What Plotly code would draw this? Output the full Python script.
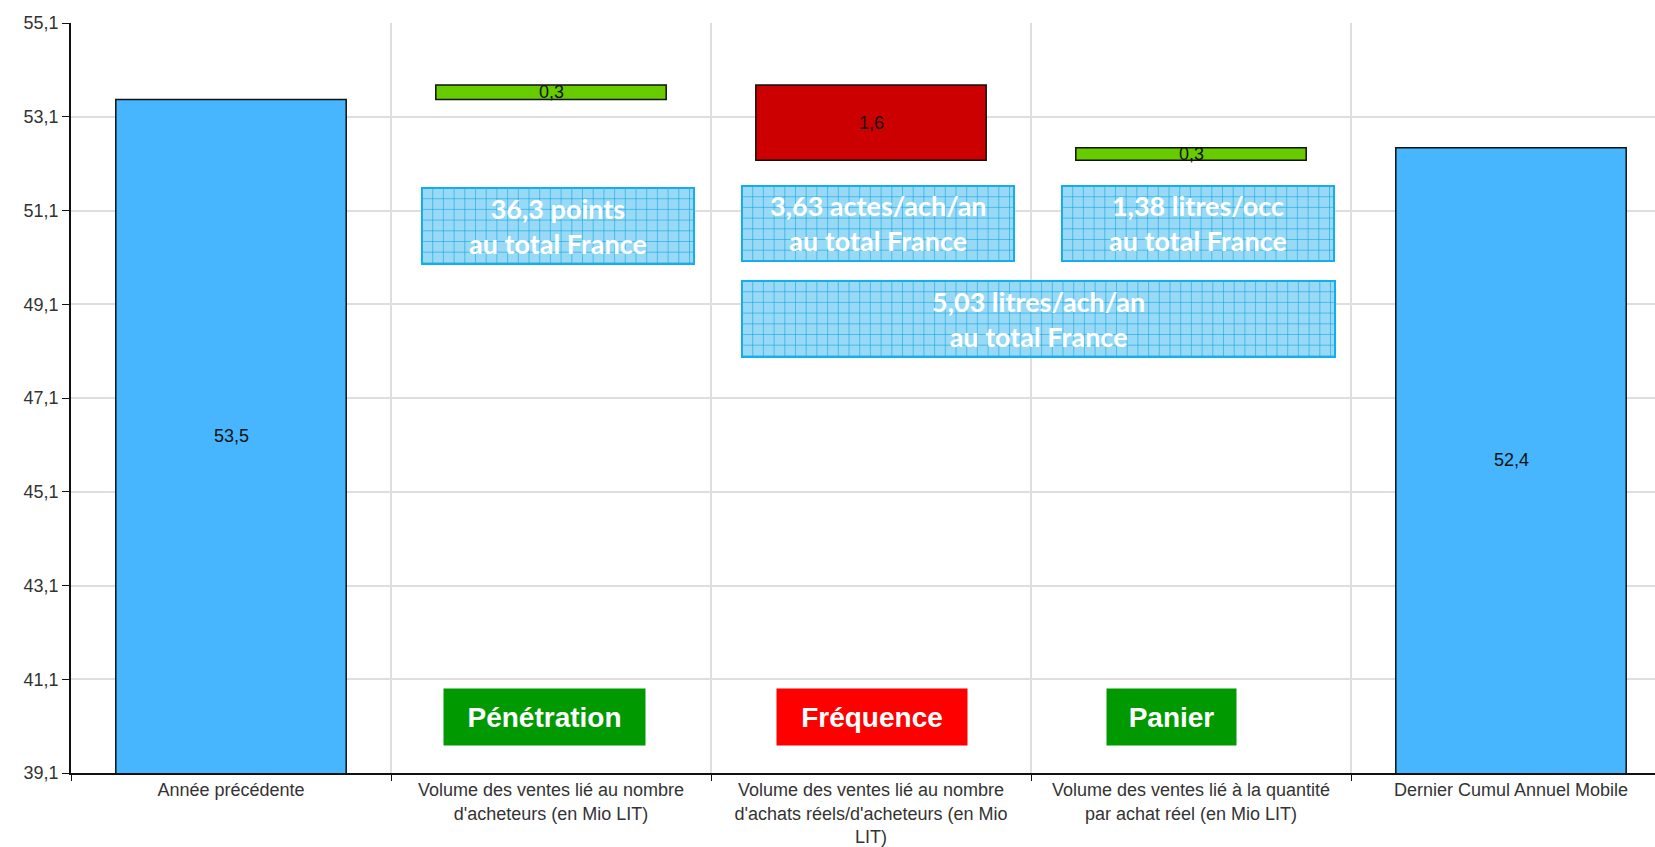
import plotly.graph_objects as go

# ---------------- data ----------------
categories = [
    "Année précédente",
    "Volume des ventes lié au nombre<br>d'acheteurs (en Mio LIT)",
    "Volume des ventes lié au nombre<br>d'achats réels/d'acheteurs (en Mio<br>LIT)",
    "Volume des ventes lié à la quantité<br>par achat réel (en Mio LIT)",
    "Dernier Cumul Annuel Mobile",
]
previous_year = 53.47
deltas = [0.31, -1.61, 0.27]
last_cam = 52.44

info_texts = [
    "36,3 points<br>au total France",
    "3,63 actes/ach/an<br>au total France",
    "1,38 litres/occ<br>au total France",
    "5,03 litres/ach/an<br>au total France",
]
driver_labels = ["Pénétration", "Fréquence", "Panier"]

# ---------------- styling ----------------
C_TOTAL = "#47b6ff"
C_UP = "#66cc00"
C_DOWN = "#cc0000"
DRIVER_COLORS = ["#009900", "#ff0000", "#009900"]
Y_MIN, Y_MAX = 39.1, 55.1

# plot area geometry (pixels)
L, T, W, H = 71, 23, 1584, 750
B = T + H


def xp(px):
    return (px - L) / W


def yp(py):
    return (B - py) / H


# build waterfall bars
bases, heights, colors = [0], [previous_year], [C_TOTAL]
running = previous_year
for d in deltas:
    bases.append(running)
    heights.append(d)
    colors.append(C_UP if d >= 0 else C_DOWN)
    running += d
bases.append(0)
heights.append(last_cam)
colors.append(C_TOTAL)

fig = go.Figure()
fig.add_trace(go.Bar(
    x=categories, y=heights, base=bases, width=0.72,
    marker=dict(color=colors, line=dict(color="#111111", width=1.5)),
    hoverinfo="skip",
))

annotations = []
# value labels centred in the visible part of each bar
for i, (b, h) in enumerate(zip(bases, heights)):
    lo, hi = sorted([b, b + h])
    lo = max(lo, Y_MIN)
    mid = (lo + hi) / 2
    annotations.append(dict(
        x=i, y=mid, xref="x", yref="y", text=f"{abs(h):.1f}".replace(".", ","),
        showarrow=False, font=dict(family="Liberation Sans, Arial", size=18, color="#111111"),
    ))

shapes = []
# hatched info boxes (pixel rectangles)
info_boxes = [(422, 188, 694, 264), (742, 186, 1014, 261), (1062, 186, 1334, 261), (742, 281, 1335, 357)]
for (x0, y0, x1, y1), txt in zip(info_boxes, info_texts):
    shapes.append(dict(type="rect", xref="paper", yref="paper",
                       x0=xp(x0), x1=xp(x1), y0=yp(y1), y1=yp(y0),
                       fillcolor="#98daf6", line=dict(width=0), layer="above"))
    step = 10.7
    path = ""
    gx = x0 + step
    while gx < x1 - 1:
        path += f"M{xp(gx)},{yp(y0)} L{xp(gx)},{yp(y1)} "
        gx += step
    gy = y0 + step
    while gy < y1 - 1:
        path += f"M{xp(x0)},{yp(gy)} L{xp(x1)},{yp(gy)} "
        gy += step
    shapes.append(dict(type="path", xref="paper", yref="paper", path=path,
                       line=dict(color="rgba(18,165,230,0.6)", width=1), layer="above"))
    shapes.append(dict(type="rect", xref="paper", yref="paper",
                       x0=xp(x0), x1=xp(x1), y0=yp(y1), y1=yp(y0),
                       fillcolor="rgba(0,0,0,0)", line=dict(color="#14aeea", width=2), layer="above"))
    annotations.append(dict(
        x=xp((x0 + x1) / 2), y=yp((y0 + y1) / 2), xref="paper", yref="paper",
        text=txt, showarrow=False, xanchor="center", yanchor="middle",
        font=dict(family="Lato, Open Sans", size=27, color="white", weight="bold"),
    ))

# driver label boxes
driver_boxes = [(544.5, 201), (872, 190), (1171.5, 129)]
for (cx, w), lab, col in zip(driver_boxes, driver_labels, DRIVER_COLORS):
    annotations.append(dict(
        x=xp(cx), y=yp(717), xref="paper", yref="paper", text=lab, showarrow=False,
        xanchor="center", yanchor="middle", width=w, height=56, bgcolor=col, borderpad=0,
        font=dict(family="Liberation Sans, Arial", size=28, color="white", weight="bold"),
    ))

fig.update_layout(
    width=1655, height=847,
    margin=dict(l=L, r=0, t=T, b=847 - B),
    paper_bgcolor="white", plot_bgcolor="white",
    showlegend=False, separators=", ",
    bargap=0.28,
    shapes=shapes, annotations=annotations,
    xaxis=dict(
        type="category", range=[-0.5, 4.45], tickson="boundaries", automargin=False,
        showgrid=True, gridcolor="#dedede", gridwidth=1.5,
        showline=True, linecolor="#111111", linewidth=1.5,
        ticks="outside", ticklen=6, tickcolor="#111111",
        tickfont=dict(family="Liberation Sans, Arial", size=18, color="#333333"),
    ),
    yaxis=dict(
        range=[Y_MIN, Y_MAX], tick0=Y_MIN, dtick=2, tickformat=".1f", automargin=False,
        showgrid=True, gridcolor="#dedede", gridwidth=1.5,
        showline=True, linecolor="#111111", linewidth=1.5,
        ticks="outside", ticklen=7, tickcolor="#111111",
        tickfont=dict(family="Liberation Sans, Arial", size=18, color="#333333"),
        zeroline=False,
    ),
)

fig.write_html("out.html")
